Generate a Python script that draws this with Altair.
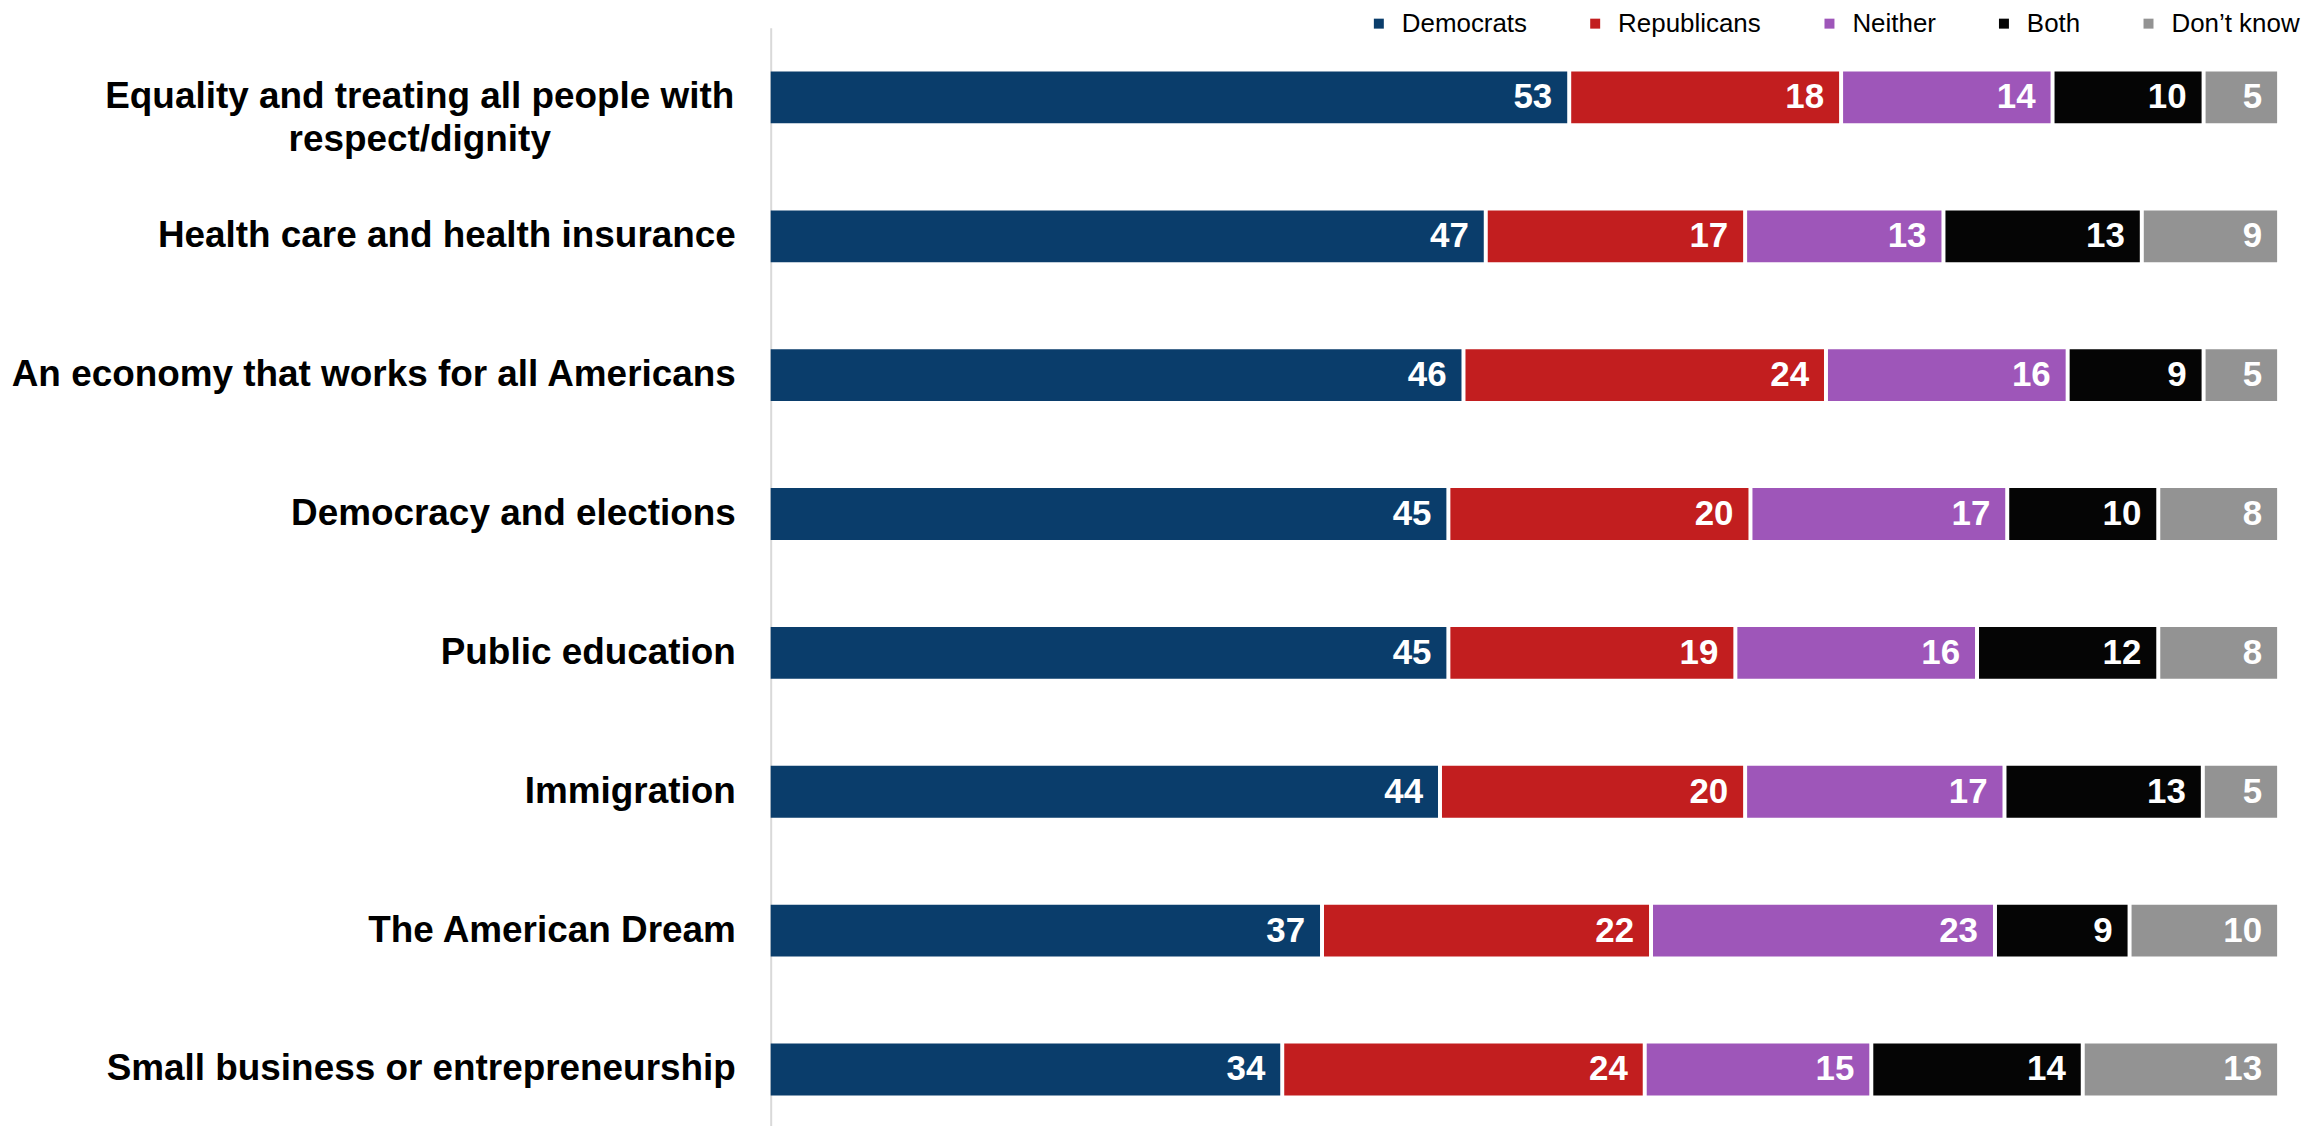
import altair as alt
import pandas as pd

cats = [
    "Equality and treating all people with respect/dignity",
    "Health care and health insurance",
    "An economy that works for all Americans",
    "Democracy and elections",
    "Public education",
    "Immigration",
    "The American Dream",
    "Small business or entrepreneurship",
]
series = ["Democrats", "Republicans", "Neither", "Both", "Don\u2019t know"]
colors = ["#0A3D6B", "#C21E1F", "#9E56B9", "#050505", "#939393"]

dem = [53, 47, 46, 45, 45, 44, 37, 34]
rep = [18, 17, 24, 20, 19, 20, 22, 24]
nei = [14, 13, 16, 17, 16, 17, 23, 15]
both = [10, 13, 9, 10, 12, 13, 9, 14]
dk = [5, 9, 5, 8, 8, 5, 10, 13]

vals = [dem, rep, nei, both, dk]
rows = []
for si, s in enumerate(series):
    for ci, c in enumerate(cats):
        rows.append({"cat": c, "series": s, "order": si, "value": vals[si][ci]})
df = pd.DataFrame(rows)

label_df = pd.DataFrame({"cat": cats[1:]})
first_df = pd.DataFrame({"cat": [cats[0]],
                         "txt": ["Equality and treating all people with\nrespect/dignity"]})

FONT = "Liberation Sans"

yscale = alt.Scale(range=[0, 1115], paddingInner=0.6267, paddingOuter=0.316)
ysort = cats

base = alt.Chart(df).transform_stack(
    stack="value",
    groupby=["cat"],
    sort=[alt.SortField("order", "ascending")],
    as_=["v0", "v1"],
    offset="normalize",
)

bars = base.mark_bar(x2Offset=-4).encode(
    y=alt.Y("cat:N", sort=ysort, scale=yscale,
            axis=alt.Axis(labels=False, ticks=False, title=None, grid=False,
                          domainColor="#d9d9d9", domainWidth=2)),
    x=alt.X("v0:Q", scale=alt.Scale(domain=[0, 1]), axis=None),
    x2="v1:Q",
    color=alt.Color(
        "series:N",
        scale=alt.Scale(domain=series, range=colors),
        legend=alt.Legend(
            orient="none", legendX=597, legendY=-17, direction="horizontal",
            title=None, symbolType="square", symbolSize=100,
            symbolStrokeWidth=0, labelFontSize=26, labelFont=FONT,
            labelColor="black", columnPadding=55, labelOffset=10, padding=0,
        ),
    ),
    order=alt.Order("order:Q"),
)

values = base.mark_text(
    align="right", baseline="middle", dx=-19, color="white",
    font=FONT, fontWeight="bold", fontSize=35,
).encode(
    y=alt.Y("cat:N", sort=ysort),
    x=alt.X("v1:Q"),
    text=alt.Text("value:Q"),
)

labels = alt.Chart(label_df).mark_text(
    align="right", baseline="middle", font=FONT, fontWeight="bold",
    fontSize=37, color="black",
).encode(
    y=alt.Y("cat:N", sort=ysort),
    x=alt.value(-35),
    text="cat:N",
)

first_label = alt.Chart(first_df).mark_text(
    align="center", baseline="middle", font=FONT, fontWeight="bold",
    fontSize=37, color="black", lineBreak="\n", lineHeight=43,
).encode(
    y=alt.Y("cat:N", sort=ysort),
    x=alt.value(-352),
    text="txt:N",
)

chart = alt.layer(bars, values, labels, first_label).properties(
    width=1515,
    height=1100,
    autosize=alt.AutoSizeParams(type="none"),
    padding={"left": 765, "top": 18, "right": 34, "bottom": 0},
).configure_view(stroke=None)

chart.save("out.html", embed_options={"renderer": "svg", "actions": False})
